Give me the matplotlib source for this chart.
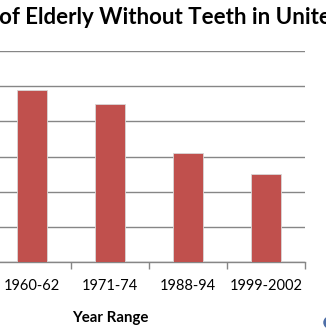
import matplotlib
matplotlib.use('Agg')
import matplotlib.pyplot as plt
from matplotlib.lines import Line2D

# data (percent)
categories = ['1960-62', '1971-74', '1988-94', '1999-2002']
values = [49, 45, 31, 25]
title = 'Percent of Elderly Without Teeth in United States'

plt.rcParams['font.family'] = ['Lato', 'DejaVu Sans']

W, H = 326, 334
fig = plt.figure(figsize=(W / 100, H / 100), dpi=100)

# plot area runs off the left edge of the picture
x0, x1 = -7, 305
y0, y1 = 262, 51
ax = fig.add_axes([x0 / W, 1 - y0 / H, (x1 - x0) / W, (y0 - y1) / H])

xs = range(len(categories))
ax.bar(xs, values, width=0.385, color='#C0504D', zorder=3,
       edgecolor='#d8d8d8', linewidth=0.6)
ax.set_xlim(-0.5, len(categories) - 0.5)
ax.set_ylim(0, 60)
ax.set_yticks(range(0, 61, 10))
ax.yaxis.grid(True, color='#868686', linewidth=1.0, zorder=0)
ax.tick_params(axis='y', left=False, labelleft=False)

ax.set_xticks([i - 0.5 for i in range(len(categories) + 1)], minor=False)
ax.set_xticklabels([])
ax.set_xticks(list(xs), minor=True)
ax.set_xticklabels(categories, minor=True, fontsize=10.5)
ax.tick_params(axis='x', which='major', length=5, color='#868686', width=1)
ax.tick_params(axis='x', which='minor', length=0, pad=12)

for s in ['top', 'right', 'left']:
    ax.spines[s].set_visible(False)
ax.spines['bottom'].set_color('#868686')
ax.spines['bottom'].set_linewidth(1)

fig.text(110 / W, 1 - 318 / H, 'Year Range', ha='center', va='center',
         fontsize=10.8, fontweight='bold')

# title is cut at the left; place "of ..." starting just left of the edge
ts = 16
renderer = fig.canvas.get_renderer()
t1 = fig.text(0, 0, 'Percent of', fontsize=ts, fontweight='bold')
t2 = fig.text(0, 0, 'of', fontsize=ts, fontweight='bold')
of_w = t1.get_window_extent(renderer).width - t2.get_window_extent(renderer).width
t1.remove()
t2.remove()
fig.text((-1 - of_w) / W, 1 - 17 / H, title, ha='left', va='center',
         fontsize=ts, fontweight='bold')

# small blue round mark cut at the lower right corner
fig.add_artist(Line2D([329 / W], [1 - 322 / H], marker='o', markersize=9,
                      color='#4F6FA8', markeredgewidth=0, linestyle='none',
                      transform=fig.transFigure))

fig.savefig('out.png', dpi=100)
